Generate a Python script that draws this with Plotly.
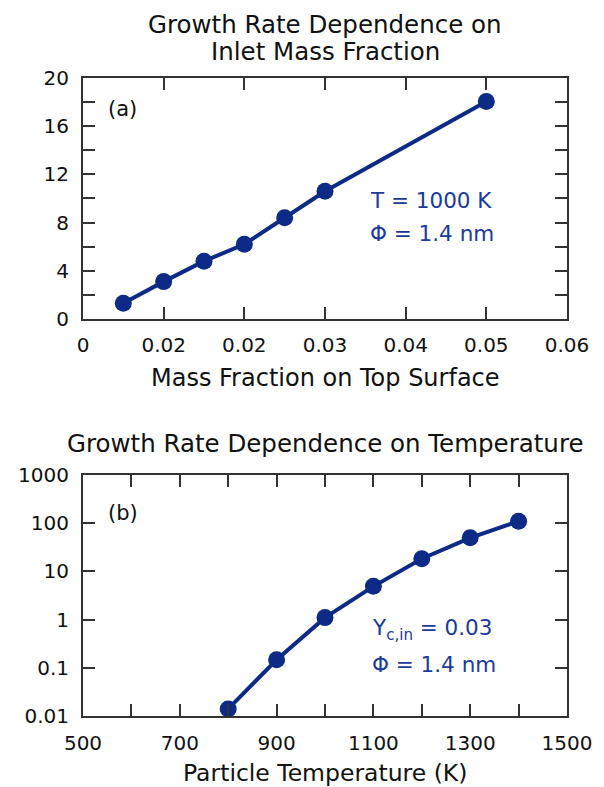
import plotly.graph_objects as go

# Panel (a): growth rate vs mass fraction
mass_fraction = [0.005, 0.010, 0.015, 0.020, 0.025, 0.030, 0.050]
growth_a = [1.3, 3.1, 4.8, 6.2, 8.4, 10.6, 18.05]
xa_tickvals = [0, 0.01, 0.02, 0.03, 0.04, 0.05, 0.06]
xa_ticktext = ["0", "0.02", "0.02", "0.03", "0.04", "0.05", "0.06"]
ya_tickvals = [0, 4, 8, 12, 16, 20]
ya_ticktext = ["0", "4", "8", "12", "16", "20"]

# Panel (b): growth rate vs temperature
temperature = [800, 900, 1000, 1100, 1200, 1300, 1400]
growth_b = [0.014, 0.147, 1.1, 4.9, 18.3, 49.8, 110]
xb_tickvals = [500, 700, 900, 1100, 1300, 1500]
xb_ticktext = ["500", "700", "900", "1100", "1300", "1500"]
yb_tickvals = [0.01, 0.1, 1, 10, 100, 1000]
yb_ticktext = ["0.01", "0.1", "1", "10", "100", "1000"]

NAVY = "#0d2a87"
TXT_BLUE = "#1b3a99"
AXC = "#333333"
FONT = "DejaVu Sans"

fig = go.Figure()
fig.add_trace(go.Scatter(x=mass_fraction, y=growth_a, mode="lines+markers",
                         line=dict(color=NAVY, width=4),
                         marker=dict(color=NAVY, size=17),
                         cliponaxis=False, xaxis="x", yaxis="y", showlegend=False))
fig.add_trace(go.Scatter(x=temperature, y=growth_b, mode="lines+markers",
                         line=dict(color=NAVY, width=4),
                         marker=dict(color=NAVY, size=17),
                         cliponaxis=False, xaxis="x2", yaxis="y2", showlegend=False))

common = dict(showline=True, linecolor=AXC, linewidth=2, mirror="ticks",
              ticks="inside", ticklen=12, tickwidth=2, tickcolor=AXC,
              showgrid=False, zeroline=False,
              tickfont=dict(family=FONT, size=20, color="#111"))
minor_in = dict(ticks="inside", ticklen=12, tickwidth=2, tickcolor=AXC, showgrid=False)

fig.update_layout(
    width=604, height=787,
    margin=dict(l=83, r=27, t=78, b=71),
    paper_bgcolor="white", plot_bgcolor="white",
    font=dict(family=FONT, color="#111"),
    xaxis=dict(domain=[0, 1], anchor="y", range=[0, 0.06],
               tickmode="array", tickvals=xa_tickvals, ticktext=xa_ticktext,
               ticklabelstandoff=7, **common),
    yaxis=dict(domain=[0.6223, 1], anchor="x", range=[0, 20],
               tickmode="array", tickvals=ya_tickvals, ticktext=ya_ticktext,
               minor=dict(tickmode="linear", tick0=0, dtick=2, **minor_in),
               ticklabelstandoff=8, **common),
    xaxis2=dict(domain=[0, 1], anchor="y2", range=[500, 1500],
                tickmode="array", tickvals=xb_tickvals, ticktext=xb_ticktext,
                minor=dict(tickmode="linear", tick0=500, dtick=100, **minor_in),
                ticklabelstandoff=8, **common),
    yaxis2=dict(domain=[0, 0.3777], anchor="x2", type="log", range=[-2, 3],
                tickmode="array", tickvals=yb_tickvals, ticktext=yb_ticktext,
                ticklabelstandoff=8, **common),
)

ann = []
# titles
ann.append(dict(text="Growth Rate Dependence on", xref="x domain", yref="y domain",
                x=0.5, y=1, yshift=54, showarrow=False, xanchor="center", yanchor="middle",
                font=dict(family=FONT, size=24.5, color="#111")))
ann.append(dict(text="Inlet Mass Fraction", xref="x domain", yref="y domain",
                x=0.5, y=1, yshift=27, showarrow=False, xanchor="center", yanchor="middle",
                font=dict(family=FONT, size=24.5, color="#111")))
ann.append(dict(text="Growth Rate Dependence on Temperature", xref="x2 domain", yref="y2 domain",
                x=0.5, y=1, yshift=32, showarrow=False, xanchor="center", yanchor="middle",
                font=dict(family=FONT, size=24.5, color="#111")))
# axis titles
ann.append(dict(text="Mass Fraction on Top Surface", xref="x domain", yref="y domain",
                x=0.5, y=0, yshift=-59, showarrow=False, xanchor="center", yanchor="middle",
                font=dict(family=FONT, size=24, color="#111")))
ann.append(dict(text="Particle Temperature (K)", xref="x2 domain", yref="y2 domain",
                x=0.5, y=0, yshift=-57, showarrow=False, xanchor="center", yanchor="middle",
                font=dict(family=FONT, size=23.5, color="#111")))
# panel labels
ann.append(dict(text="(a)", xref="x", yref="y", x=0.0049, y=17.4, showarrow=False,
                xanchor="center", yanchor="middle", font=dict(family=FONT, size=21, color="#111")))
ann.append(dict(text="(b)", xref="x2", yref="y2", x=582, y=2.22, showarrow=False,
                xanchor="center", yanchor="middle", font=dict(family=FONT, size=21, color="#111")))
# parameter notes
ann.append(dict(text="T = 1000 K", xref="x", yref="y", x=0.0353, y=9.85, showarrow=False,
                xanchor="left", yanchor="middle", font=dict(family=FONT, size=21.5, color=TXT_BLUE)))
ann.append(dict(text="Φ = 1.4 nm", xref="x", yref="y", x=0.0353, y=7.1, showarrow=False,
                xanchor="left", yanchor="middle", font=dict(family=FONT, size=21.5, color=TXT_BLUE)))
ann.append(dict(text="Y<sub>c,in</sub> = 0.03", xref="x2", yref="y2", x=1092, y=-0.2, showarrow=False,
                xanchor="left", yanchor="middle", font=dict(family=FONT, size=21.5, color=TXT_BLUE)))
ann.append(dict(text="Φ = 1.4 nm", xref="x2", yref="y2", x=1092, y=-0.93, showarrow=False,
                xanchor="left", yanchor="middle", font=dict(family=FONT, size=21.5, color=TXT_BLUE)))
fig.update_layout(annotations=ann)

fig.write_html("out.html")
